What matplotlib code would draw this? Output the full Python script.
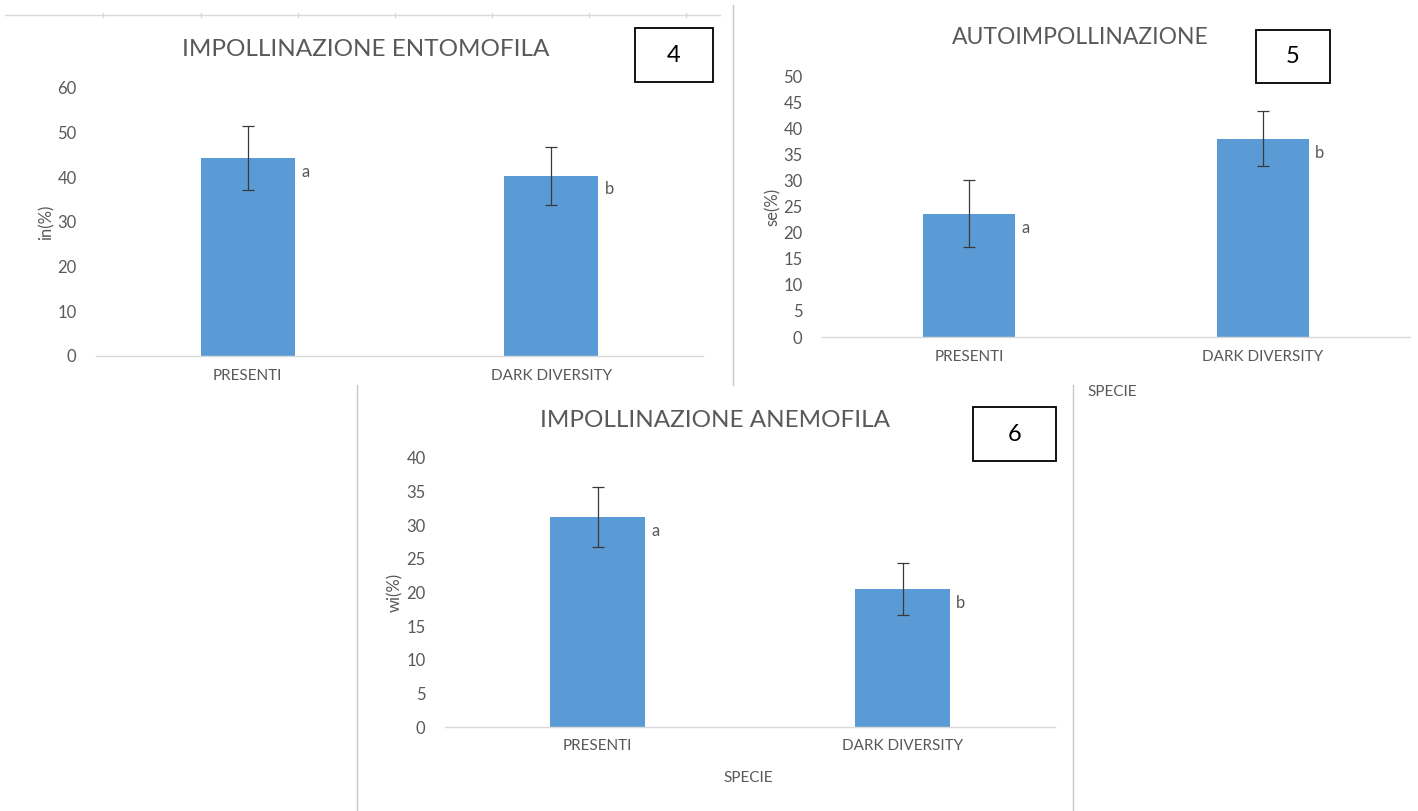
import matplotlib
matplotlib.use("Agg")
import matplotlib.pyplot as plt
from matplotlib.patches import Rectangle
from matplotlib.lines import Line2D
import numpy as np

plt.rcParams['font.family'] = ['Lato', 'DejaVu Sans']

categories = ["PRESENTI", "DARK DIVERSITY"]

titles = ["IMPOLLINAZIONE ENTOMOFILA", "AUTOIMPOLLINAZIONE", "IMPOLLINAZIONE ANEMOFILA"]
panel_numbers = ["4", "5", "6"]
ylabels = ["in(%)", "se(%)", "wi(%)"]
letters = [["a", "b"], ["a", "b"], ["a", "b"]]

entomofila_vals = [44.4, 40.4]
entomofila_err = [7.2, 6.5]
auto_vals = [23.6, 38.0]
auto_err = [6.4, 5.2]
anemofila_vals = [31.2, 20.5]
anemofila_err = [4.5, 3.9]

yticks_list = [np.arange(0, 61, 10), np.arange(0, 51, 5), np.arange(0, 41, 5)]

W, H = 1418, 811
fig = plt.figure(figsize=(W / 100, H / 100), dpi=100)

BLUE = "#5B9BD5"
GRAY = "#595959"
AXLINE = "#D9D9D9"


def px_axes(x0, x1, y_top, y_zero):
    return fig.add_axes([x0 / W, 1 - y_zero / H, (x1 - x0) / W, (y_zero - y_top) / H])


def fig_line(xs, ys, color="#D0D0D0", lw=1.0):
    fig.add_artist(Line2D([x / W for x in xs], [1 - y / H for y in ys],
                          color=color, lw=lw, transform=fig.transFigure))


def draw_panel(ax, vals, errs, yticks, ylabel, lets):
    x = np.arange(len(categories))
    ax.bar(x, vals, width=0.31, color=BLUE, zorder=2)
    ax.errorbar(x, vals, yerr=errs, fmt="none", ecolor="#3A3A3A",
                elinewidth=0.9, capsize=4.3, capthick=0.9, zorder=3)
    ax.set_xlim(-0.5, len(categories) - 0.5)
    ax.set_ylim(0, yticks[-1])
    ax.set_yticks(yticks)
    ax.set_xticks(x)
    ax.set_xticklabels(categories, color=GRAY)
    ax.tick_params(axis="both", length=0, colors=GRAY)
    ax.tick_params(axis="x", pad=9, labelsize=11)
    ax.tick_params(axis="y", pad=14, labelsize=12)
    for s in ["top", "right", "left"]:
        ax.spines[s].set_visible(False)
    ax.spines["bottom"].set_color(AXLINE)
    ax.spines["bottom"].set_linewidth(1.0)
    ax.set_ylabel(ylabel, color=GRAY, fontsize=12, labelpad=2)
    for xi, v, t in zip(x, vals, lets):
        ax.annotate(t, (xi + 0.155, v), xytext=(8, -10), textcoords="offset points",
                    ha="center", va="center", fontsize=12, color=GRAY)


def number_box(x0, y0, x1, y1, label):
    fig.add_artist(Rectangle((x0 / W, 1 - y1 / H), (x1 - x0) / W, (y1 - y0) / H,
                             transform=fig.transFigure, fill=False, ec="black", lw=1.3))
    fig.text((x0 + x1) / 2 / W, 1 - (y0 + y1) / 2 / H, label, ha="center", va="center",
             fontsize=17, color="black")


# frame lines (spreadsheet borders)
fig_line([5, 720], [15, 15], color="#D9D9D9")
for tx in [103, 201, 298, 395, 492, 589, 686]:
    fig_line([tx, tx], [13, 17], color="#D9D9D9")
fig_line([733, 733], [5, 385], color="#C8C8C8")
fig_line([357, 357], [385, 811], color="#C8C8C8")
fig_line([1073, 1073], [385, 811], color="#C8C8C8")

# Panel 4
ax1 = px_axes(96, 703, 88, 356)
draw_panel(ax1, entomofila_vals, entomofila_err, yticks_list[0], ylabels[0], letters[0])
fig.text(366 / W, 1 - 50 / H, titles[0], ha="center", va="center", fontsize=17.5, color=GRAY)
number_box(635, 28, 713, 82, panel_numbers[0])

# Panel 5
ax2 = px_axes(822, 1410, 76, 337)
draw_panel(ax2, auto_vals, auto_err, yticks_list[1], ylabels[1], letters[1])
fig.text(1080 / W, 1 - 38 / H, titles[1], ha="center", va="center", fontsize=16.5, color=GRAY)
number_box(1256, 30, 1330, 83, panel_numbers[1])
fig.text(1112 / W, 1 - 392 / H, "SPECIE", ha="center", va="center", fontsize=11, color=GRAY)

# Panel 6
ax3 = px_axes(445, 1055, 458, 727)
draw_panel(ax3, anemofila_vals, anemofila_err, yticks_list[2], ylabels[2], letters[2])
fig.text(715 / W, 1 - 420 / H, titles[2], ha="center", va="center", fontsize=17.5, color=GRAY)
number_box(973, 407, 1056, 461, panel_numbers[2])
fig.text(748 / W, 1 - 778 / H, "SPECIE", ha="center", va="center", fontsize=11, color=GRAY)

fig.savefig("out.png", dpi=100, facecolor="white")
